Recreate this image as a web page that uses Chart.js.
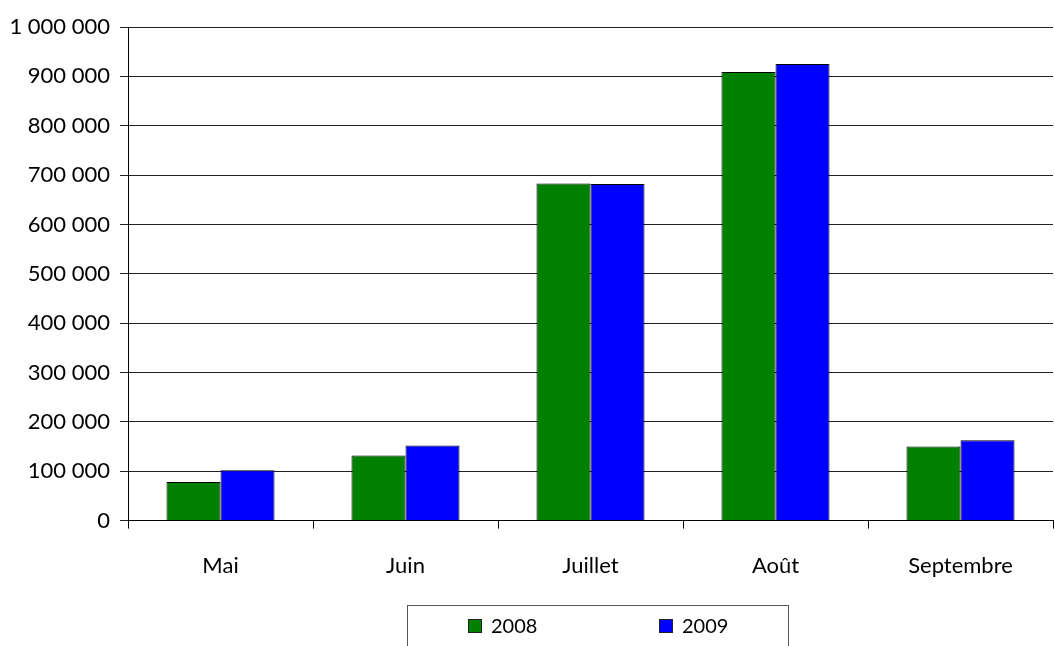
<!DOCTYPE html>
<html>
<head>
<meta charset="utf-8">
<script src="https://cdn.jsdelivr.net/npm/chart.js@4/dist/chart.umd.min.js"></script>
<style>
  html, body { margin: 0; padding: 0; background: #fff; }
  #wrap { width: 1055px; height: 646px; }
</style>
</head>
<body>
<div id="wrap"><canvas id="chart"></canvas></div>
<script>
// Data
const months = ['Mai', 'Juin', 'Juillet', 'Août', 'Septembre'];
const values2008 = [78000, 132000, 683000, 909000, 150000];
const values2009 = [102000, 152000, 682000, 925000, 163000];
const seriesNames = ['2008', '2009'];
const seriesColors = ['#008000', '#0000ff'];

const FONT = 'Lato, "Open Sans", sans-serif';

// format 1000000 -> "1 000 000"
const fmt = v => String(v).replace(/\B(?=(\d{3})+(?!\d))/g, ' ');

// boxed legend under the x axis, like the original
const boxLegend = {
    id: 'boxLegend',
    afterDraw(chart) {
        const ctx = chart.ctx;
        ctx.save();
        ctx.strokeStyle = '#555';
        ctx.lineWidth = 1;
        ctx.strokeRect(407.5, 605.5, 381, 60);
        const starts = [468, 659];
        ctx.font = '20px ' + FONT;
        ctx.textBaseline = 'middle';
        chart.data.datasets.forEach((ds, i) => {
            const x = starts[i];
            ctx.fillStyle = ds.backgroundColor;
            ctx.fillRect(x, 619, 14, 14);
            ctx.strokeStyle = '#222';
            ctx.strokeRect(x + 0.5, 619.5, 13, 13);
            ctx.fillStyle = '#000';
            ctx.fillText(ds.label, x + 23, 627);
        });
        ctx.restore();
    }
};

new Chart(document.getElementById('chart'), {
    type: 'bar',
    data: {
        labels: months,
        datasets: [{
            label: seriesNames[0],
            data: values2008,
            backgroundColor: seriesColors[0],
            borderColor: '#000',
            borderWidth: 1,
            categoryPercentage: 0.584,
            barPercentage: 1
        }, {
            label: seriesNames[1],
            data: values2009,
            backgroundColor: seriesColors[1],
            borderColor: '#000',
            borderWidth: 1,
            categoryPercentage: 0.584,
            barPercentage: 1
        }]
    },
    options: {
        responsive: true,
        maintainAspectRatio: false,
        animation: false,
        layout: {
            padding: { top: 27, right: 2, bottom: 43, left: 0 }
        },
        plugins: {
            legend: { display: false },
            tooltip: { enabled: false }
        },
        scales: {
            x: {
                offset: true,
                grid: {
                    offset: true,
                    drawOnChartArea: false,
                    color: '#000',
                    tickLength: 8
                },
                border: { color: '#000' },
                ticks: {
                    color: '#000',
                    font: { family: FONT, size: 22 },
                    padding: 24
                }
            },
            y: {
                min: 0,
                max: 1000000,
                afterFit: s => { s.width = 128; },
                grid: {
                    color: '#222',
                    tickLength: 8
                },
                border: { color: '#000' },
                ticks: {
                    stepSize: 100000,
                    color: '#000',
                    font: { family: FONT, size: 22 },
                    padding: 10,
                    callback: v => fmt(v)
                }
            }
        }
    },
    plugins: [boxLegend]
});
</script>
</body>
</html>
